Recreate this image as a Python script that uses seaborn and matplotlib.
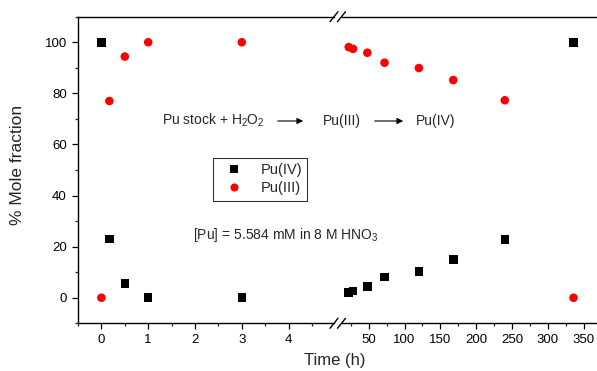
import matplotlib
matplotlib.use("Agg")
import matplotlib.pyplot as plt
import seaborn as sns
import pandas as pd
from matplotlib.ticker import MultipleLocator

# ---- data ----
time_short = [0, 0.17, 0.5, 1, 3]
pu4_short = [100, 23, 5.6, 0, 0]
pu3_short = [0, 77, 94.4, 100, 100]

time_long = [22, 28, 48, 72, 120, 168, 240, 336]
pu4_long = [2.1, 2.7, 4.3, 8.2, 10.2, 15.0, 22.8, 100]
pu3_long = [98.1, 97.4, 95.9, 92.0, 89.9, 85.2, 77.3, 0]

species = ["Pu(IV)", "Pu(III)"]
colors = {"Pu(IV)": "black", "Pu(III)": "#ff0000"}
markers = {"Pu(IV)": "s", "Pu(III)": "o"}

left_ticks = [0, 1, 2, 3, 4]
right_ticks = [50, 100, 150, 200, 250, 300, 350]
y_ticks = [0, 20, 40, 60, 80, 100]

def long_df(t, a, b):
    return pd.DataFrame({
        "time": list(t) + list(t),
        "frac": list(a) + list(b),
        "species": ["Pu(IV)"] * len(t) + ["Pu(III)"] * len(t),
    })

df_s = long_df(time_short, pu4_short, pu3_short)
df_l = long_df(time_long, pu4_long, pu3_long)

sns.set_style("ticks")
plt.rcParams["font.family"] = ["Liberation Sans", "DejaVu Sans"]
plt.rcParams["mathtext.fontset"] = "custom"
plt.rcParams["mathtext.rm"] = "Liberation Sans"
plt.rcParams["mathtext.it"] = "Liberation Sans"

W, H = 597, 371
fig = plt.figure(figsize=(W / 100, H / 100), dpi=100)

def fx(px):
    return px / W

def fy(py):
    return 1 - py / H

ybot, ytop = 323.3, 16.7
ax1 = fig.add_axes([fx(78), fy(ybot), fx(334) - fx(78), fy(ytop) - fy(ybot)])
ax2 = fig.add_axes([fx(342), fy(ybot), fx(597.5) - fx(342), fy(ytop) - fy(ybot)])

for ax, df in ((ax1, df_s), (ax2, df_l)):
    sns.scatterplot(data=df, x="time", y="frac", hue="species", style="species",
                    hue_order=species, style_order=species,
                    palette=colors, markers=markers, s=38, edgecolor="none",
                    linewidth=0, legend=(ax is ax1), ax=ax)
    ax.set_ylim(-10, 110)
    ax.set_xlabel("")
    ax.set_ylabel("")
    for sp in ax.spines.values():
        sp.set_linewidth(1.0)
        sp.set_color("black")
    ax.spines["right"].set_visible(False)
    ax.tick_params(axis="both", which="major", direction="out", length=4, width=0.9,
                   labelsize=9.5, pad=4, colors="black")
    ax.tick_params(axis="both", which="minor", direction="out", length=2.5, width=0.9)

ax1.set_xlim(-0.5, 4.97)
ax1.set_xticks(left_ticks)
ax1.xaxis.set_minor_locator(MultipleLocator(0.5))
ax1.set_yticks(y_ticks)
ax1.yaxis.set_minor_locator(MultipleLocator(10))

ax2.set_xlim(12.6, 369.5)
ax2.set_xticks(right_ticks)
ax2.xaxis.set_minor_locator(MultipleLocator(25))
ax2.spines["left"].set_visible(False)
ax2.set_yticks([])
ax2.tick_params(axis="y", which="both", left=False, labelleft=False)

# legend
handles, labels = ax1.get_legend_handles_labels()
ax1.get_legend().remove()
leg = fig.legend(handles, labels, loc="upper left",
                 bbox_to_anchor=(fx(213), fy(158)), bbox_transform=fig.transFigure,
                 frameon=True, fancybox=False, fontsize=10.5, borderaxespad=0,
                 handletextpad=0.7, handlelength=2.2, borderpad=0.35,
                 labelspacing=0.3, markerscale=0.95)
leg.get_frame().set_edgecolor("black")
leg.get_frame().set_linewidth(0.8)

# axis labels
fig.text(fx(18), fy(165), "% Mole fraction", rotation=90, ha="center", va="center",
         fontsize=12.5)
fig.text(fx(335), fy(361), "Time (h)", ha="center", va="center", fontsize=12)

# annotations
fs = 10
fig.text(fx(213), fy(124.5), r"Pu stock + H$_2$O$_2$", ha="center", va="baseline", fontsize=fs)
fig.text(fx(342), fy(124.5), "Pu(III)", ha="center", va="baseline", fontsize=fs)
fig.text(fx(436), fy(124.5), "Pu(IV)", ha="center", va="baseline", fontsize=fs)
for x0, x1 in ((275, 306), (372, 406)):
    fig.add_artist(matplotlib.patches.FancyArrowPatch(
        (fx(x0), fy(121)), (fx(x1), fy(121)), transform=fig.transFigure,
        arrowstyle="-|>", mutation_scale=9, lw=0.8, color="black"))
fig.text(fx(286), fy(239), r"[Pu] = 5.584 mM in 8 M HNO$_3$", ha="center", va="baseline",
         fontsize=fs)

# break marks
for yb in (ytop, ybot):
    for xb in (330, 337.5):
        fig.add_artist(matplotlib.lines.Line2D(
            [fx(xb), fx(xb + 8)], [fy(yb + 5), fy(yb - 5)],
            transform=fig.transFigure, color="black", lw=1.0))

fig.savefig("out.png", dpi=100)
